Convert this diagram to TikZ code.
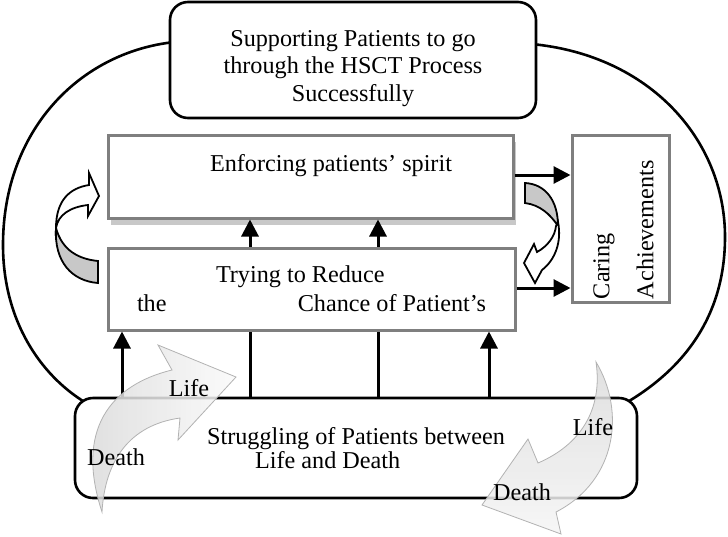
\documentclass[tikz,border=0pt]{standalone}
\usepackage{fontspec}
\setmainfont{Liberation Serif}
\usetikzlibrary{arrows.meta,shadows,backgrounds}
\definecolor{boxgray}{HTML}{7F7F7F}
\definecolor{shade}{HTML}{C8C8C8}
\tikzset{
  >={Triangle[length=8.5pt,width=8.5pt]},
  flow/.style={->,line width=1.5pt},
  link/.style={line width=1.5pt},
  ring/.style={line width=1.3pt},
  txt/.style={font=\fontsize{12.1}{13.8}\selectfont},
  roundbox/.style={txt,draw,line width=1.3pt,rounded corners=9pt,fill=white,align=center,inner sep=2pt},
  panel/.style={txt,draw=boxgray,line width=1.5pt,fill=white,inner sep=2pt},
  twistback/.style={draw,line width=0.9pt,fill=shade},
  twistfront/.style={draw,line width=0.9pt,fill=white},
  bigarrow/.style={draw=gray!60,line width=0.4pt,fill opacity=0.85},
  tag/.style={txt,anchor=base,inner sep=0pt}
}
\begin{document}
\begin{tikzpicture}[x=0.5pt,y=-0.5pt]
  \useasboundingbox (0,0) rectangle (728,536);
  \node[roundbox,minimum width=183pt,minimum height=58pt] (goal) at (353,60) {\rule{0pt}{16.3pt}Supporting Patients to go\\through the HSCT Process\\Successfully};
  \node[panel,minimum width=202.5pt,minimum height=41.5pt,text height=8.5pt,text depth=14pt,
    drop shadow={shadow xshift=1.5pt,shadow yshift=-3.5pt,fill=shade,opacity=1}] (spirit) at (310.5,176.5) {\hspace*{20.5pt}Enforcing patients' spirit};
  \node[panel,minimum width=203.5pt,minimum height=41pt,align=left,font=\fontsize{12.1}{14.5}\selectfont] (reduce) at (311.5,289)
    {\makebox[174.5pt][l]{\hspace*{39.5pt}Trying to Reduce}\\\makebox[174.5pt]{the\hfill Chance of Patient's}};
  \node[panel,rotate=90,minimum height=48.5pt,text width=80.5pt,inner xsep=1.5pt,align=left,font=\fontsize{12.1}{22}\selectfont] (achieve) at (620.5,218.5)
    {\rule{0pt}{11pt}Caring\\Achievements};
  \node[roundbox,minimum width=281pt,minimum height=50pt,align=left,font=\fontsize{12.1}{12}\selectfont] (struggle) at (356,448)
    {Struggling of Patients between\\\hspace*{24pt}Life and Death};
  \begin{scope}[on background layer]
    \draw[ring] ([xshift=3pt,yshift=9pt]goal.west) .. controls (80,52) and (3,130) .. (3,245) .. controls (3,320) and (40,375) .. ([xshift=6pt,yshift=-3pt]struggle.north west);
    \draw[ring] ([xshift=-3pt,yshift=8pt]goal.east) .. controls (650,55) and (725,140) .. (725,237) .. controls (725,310) and (690,365) .. ([xshift=-6pt,yshift=-3pt]struggle.north east);
  \end{scope}
  \foreach \dx in {-30.75pt,33.25pt}
    \draw[flow] ([xshift=\dx]reduce.north) -- ([xshift=\dx]reduce.north |- spirit.south);
  \foreach \dx/\kind in {-117pt/flow,-53pt/link,11pt/link,66.5pt/flow}
    \draw[\kind] ([xshift=\dx]struggle.north) -- ([xshift=\dx]struggle.north |- reduce.south);
  \draw[flow] ([yshift=0.75pt]spirit.east) -- ([yshift=0.75pt]spirit.east -| achieve.north);
  \draw[flow] ([yshift=0.5pt]reduce.east) -- ([yshift=0.5pt]reduce.east -| achieve.north);
  \draw[twistback] (56,228) .. controls (54,262) and (72,281) .. (98,283) -- (98,261) .. controls (78,259) and (62,250) .. (56,228) -- cycle;
  \draw[twistfront] (56,228) .. controls (56,200) and (70,188) .. (89,185) -- (89,173) -- (99,196) -- (88,216) -- (88,205) .. controls (70,207) and (58,215) .. (56,228) -- cycle;
  \draw[twistback] (525,183) .. controls (545,184) and (558,200) .. (558,226) .. controls (550,214) and (540,205) .. (525,203) -- cycle;
  \draw[twistfront] (558,222) .. controls (562,242) and (555,260) .. (542,270) -- (535,283) -- (524,263) -- (534,244) -- (537,252) .. controls (548,246) and (555,236) .. (556,226) -- cycle;
  \draw[bigarrow,left color=gray!30,right color=gray!4] (102,512) .. controls (75,430) and (110,385) .. (172,370) -- (158,345) -- (236,377) -- (178,440) -- (180,418) .. controls (130,425) and (105,460) .. (102,512) -- cycle;
  \draw[bigarrow,top color=gray!28,bottom color=gray!8] (596,362) .. controls (625,410) and (618,480) .. (556,512) -- (561,534) -- (482,505) -- (528,439) -- (538,463) .. controls (580,445) and (603,410) .. (596,362) -- cycle;
  \node[tag] (lifeL) at (189,396) {Life};
  \node[tag] (deathL) at (116,465) {Death};
  \node[tag] (lifeR) at (593,435) {Life};
  \node[tag] (deathR) at (522,500) {Death};
\end{tikzpicture}
\end{document}
